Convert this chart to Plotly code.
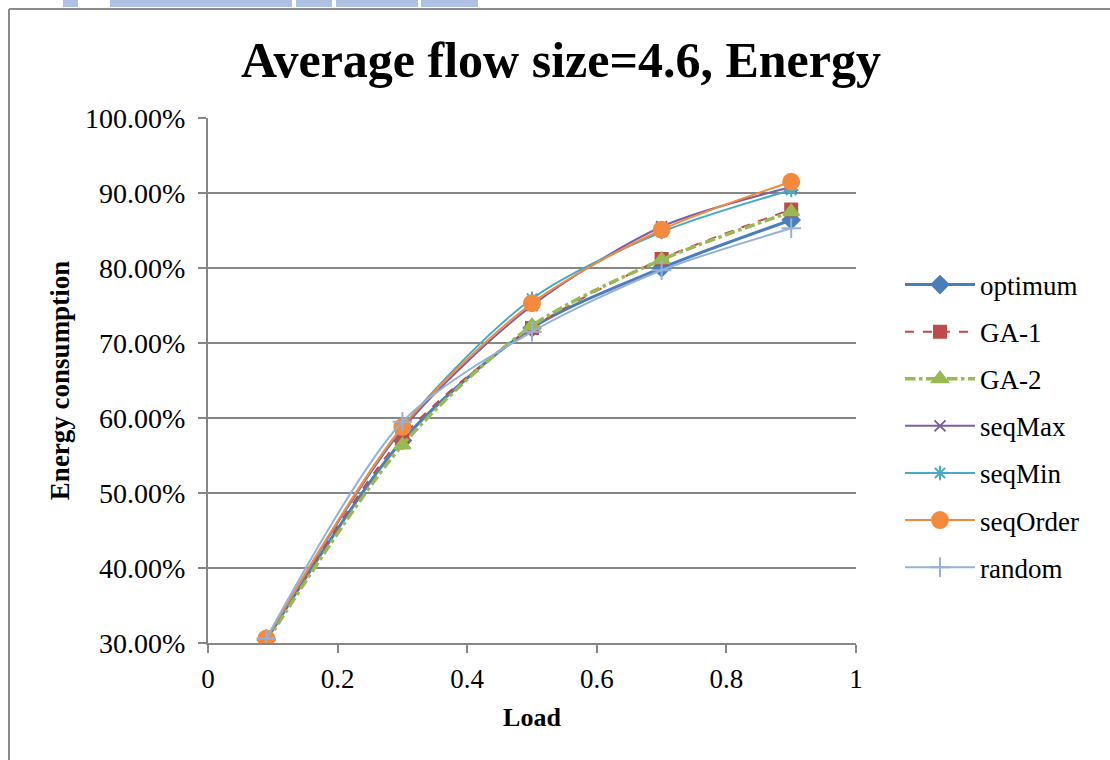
import plotly.graph_objects as go

W, H = 1110, 760

load = [0.09, 0.3, 0.5, 0.7, 0.9]
optimum = [30.4, 57.0, 72.0, 80.0, 86.4]
ga1 = [30.3, 57.5, 72.0, 81.2, 87.8]
ga2 = [30.1, 56.4, 72.3, 81.1, 87.5]
seqmax = [30.5, 58.5, 75.0, 85.5, 90.8]
seqmin = [30.5, 58.8, 75.9, 84.8, 90.4]
seqorder = [30.6, 58.8, 75.3, 85.1, 91.5]
random_ = [30.6, 59.5, 71.5, 79.7, 85.3]

yticks = [30, 40, 50, 60, 70, 80, 90, 100]
xticks = [0, 0.2, 0.4, 0.6, 0.8, 1]

series = [
    ("optimum", optimum, "#4A7EBB", "solid", 3, "diamond", 13),
    ("GA-1", ga1, "#BE4B48", "dash", 2, "square", 12),
    ("GA-2", ga2, "#98B954", "dashdot", 3.5, "triangle-up", 14),
    ("seqMax", seqmax, "#7D60A0", "solid", 2, "x-thin-open", 11),
    ("seqMin", seqmin, "#46AAC5", "solid", 2, "asterisk-open", 12),
    ("seqOrder", seqorder, "#F38A3D", "solid", 2, "circle", 16),
    ("random", random_, "#94B2D8", "solid", 2, "cross-thin-open", 14),
]

FONT = "Liberation Serif, DejaVu Serif, serif"

fig = go.Figure()
for i, (name, ys, color, dash, lw, sym, ms) in enumerate(series):
    fig.add_trace(go.Scatter(
        x=load, y=ys, name=name, mode="lines+markers",
        line=dict(color=color, width=lw, dash=dash, shape="spline", smoothing=0.8),
        marker=dict(symbol=sym, size=ms, color=color, line=dict(color=color, width=2)),
        legendgroup=f"g{i}",
    ))

px0, px1 = 208, 856
py0, py1 = 643, 118
fig.update_layout(
    width=W, height=H,
    margin=dict(l=0, r=0, t=0, b=0),
    paper_bgcolor="white", plot_bgcolor="white",
    font=dict(family=FONT, color="black"),
    title=dict(text="<b>Average flow size=4.6, Energy</b>", x=561 / W, xanchor="center",
               y=1 - 59 / H, yanchor="middle",
               font=dict(size=50, family=FONT)),
    xaxis=dict(domain=[px0 / W, px1 / W], range=[0, 1], tickvals=xticks,
               ticktext=["0", "0.2", "0.4", "0.6", "0.8", "1"],
               showgrid=False, showline=True, linecolor="#868686", linewidth=2,
               ticks="outside", ticklen=8, tickcolor="#868686", tickwidth=2,
               tickfont=dict(size=27), zeroline=False, automargin=False,
               ticklabelstandoff=3,
               title=dict(text="<b>Load</b>", font=dict(size=26), standoff=14)),
    yaxis=dict(domain=[(H - py0) / H, (H - py1) / H], range=[30, 100], tickvals=yticks,
               ticktext=[f"{v:.2f}%" for v in yticks],
               showgrid=True, gridcolor="#868686", gridwidth=2,
               showline=True, linecolor="#868686", linewidth=2,
               ticks="outside", ticklen=8, tickcolor="#868686", tickwidth=2,
               tickfont=dict(size=28), zeroline=False, automargin=False,
               ticklabelstandoff=7,
               title=dict(text="<b>Energy consumption</b>", font=dict(size=27), standoff=8)),
    legend=dict(x=900 / W, xanchor="left", y=1 - 426 / H, yanchor="middle",
                font=dict(size=27), tracegroupgap=9, itemwidth=70,
                bgcolor="rgba(0,0,0,0)"),
    showlegend=True,
)

# chart border (left and top), and faint watermark strip at the top
fig.add_shape(type="line", xref="paper", yref="paper", x0=9 / W, x1=9 / W, y0=0, y1=1 - 9 / H,
              line=dict(color="#8C8C8C", width=2))
fig.add_shape(type="line", xref="paper", yref="paper", x0=9 / W, x1=1, y0=1 - 9 / H, y1=1 - 9 / H,
              line=dict(color="#8C8C8C", width=2))
for a, b in [(63, 78), (110, 292), (296, 332), (336, 418), (421, 478)]:
    fig.add_shape(type="rect", xref="paper", yref="paper", x0=a / W, x1=b / W,
                  y0=1 - 7 / H, y1=1, line=dict(width=0), fillcolor="#AFC1E2", layer="below")

fig.write_html("out.html",
               post_script="document.body.style.margin='0';document.body.style.padding='0';"
                           "document.documentElement.style.overflow='hidden';")
